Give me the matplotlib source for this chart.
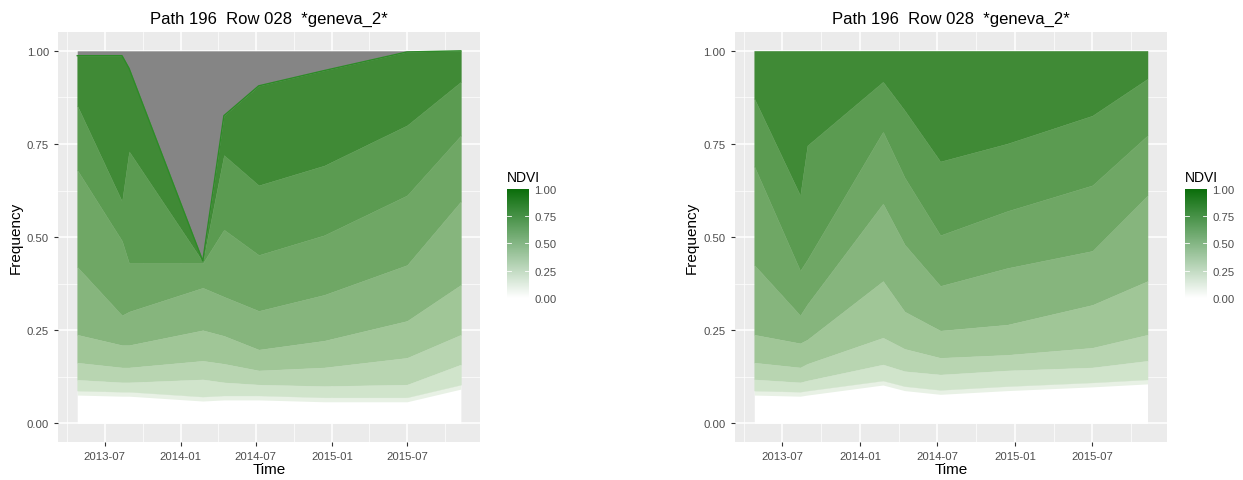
import numpy as np
import pandas as pd
import matplotlib
matplotlib.use("Agg")
import matplotlib.pyplot as plt
import matplotlib.dates as mdates
from matplotlib.colors import LinearSegmentedColormap

plt.rcParams['font.family'] = ['Liberation Sans', 'DejaVu Sans']

# acquisition dates
dates = pd.to_datetime(['2013-04-26', '2013-08-12', '2013-08-29', '2014-02-23',
                        '2014-04-15', '2014-07-08', '2014-12-13', '2015-07-01',
                        '2015-11-08'])

# left panel: upper edge of valid data (grey above = no data), then the
# cumulative frequency boundaries from high NDVI down to low NDVI
left_top = [0.987, 0.987, 0.953, 0.436, 0.826, 0.906, 0.947, 0.997, 1.000]
left_b1 = [0.853, 0.596, 0.730, 0.434, 0.720, 0.639, 0.692, 0.800, 0.917]
left_b2 = [0.680, 0.490, 0.430, 0.430, 0.520, 0.452, 0.505, 0.612, 0.773]
left_b3 = [0.420, 0.290, 0.300, 0.364, 0.340, 0.302, 0.345, 0.425, 0.596]
left_b4 = [0.238, 0.210, 0.210, 0.250, 0.235, 0.198, 0.222, 0.275, 0.372]
left_b5 = [0.163, 0.150, 0.150, 0.168, 0.160, 0.142, 0.150, 0.176, 0.238]
left_b6 = [0.117, 0.110, 0.110, 0.118, 0.110, 0.104, 0.100, 0.104, 0.158]
left_b7 = [0.088, 0.085, 0.085, 0.072, 0.075, 0.075, 0.070, 0.070, 0.104]

# right panel (no missing data)
right_top = [1.0, 1.0, 1.0, 1.0, 1.0, 1.0, 1.0, 1.0, 1.0]
right_b1 = [0.872, 0.612, 0.746, 0.917, 0.840, 0.703, 0.751, 0.826, 0.925]
right_b2 = [0.690, 0.410, 0.440, 0.783, 0.660, 0.505, 0.570, 0.639, 0.773]
right_b3 = [0.425, 0.290, 0.320, 0.590, 0.480, 0.369, 0.417, 0.463, 0.612]
right_b4 = [0.238, 0.215, 0.225, 0.382, 0.300, 0.249, 0.265, 0.318, 0.382]
right_b5 = [0.163, 0.150, 0.160, 0.230, 0.200, 0.176, 0.184, 0.203, 0.238]
right_b6 = [0.118, 0.110, 0.115, 0.158, 0.140, 0.131, 0.142, 0.150, 0.168]
right_b7 = [0.088, 0.085, 0.088, 0.115, 0.100, 0.090, 0.100, 0.110, 0.118]

band_colors = ['#408a36', '#5b9b51', '#6fa765', '#86b57d', '#a0c697', '#b8d5b1', '#d0e4cb']

title = 'Path 196  Row 028  *geneva_2*'
yticks = [0.0, 0.25, 0.5, 0.75, 1.0]
xticks = pd.to_datetime(['2013-07-01', '2014-01-01', '2014-07-01', '2015-01-01', '2015-07-01'])
xminor = pd.to_datetime(['2013-04-01', '2013-10-01', '2014-04-01', '2014-10-01', '2015-04-01', '2015-10-01'])


def panel(ax, top, bounds, grey):
    ax.set_facecolor('#ebebeb')
    span = dates[-1] - dates[0]
    ax.set_xlim(dates[0] - 0.05 * span, dates[-1] + 0.05 * span)
    ax.set_ylim(-0.05, 1.05)
    ax.set_yticks(yticks)
    ax.set_yticklabels(['%.2f' % v for v in yticks])
    ax.set_yticks([0.125, 0.375, 0.625, 0.875], minor=True)
    ax.set_xticks(xticks)
    ax.xaxis.set_major_formatter(mdates.DateFormatter('%Y-%m'))
    ax.set_xticks(xminor, minor=True)
    ax.grid(True, which='major', color='white', lw=1.1)
    ax.grid(True, which='minor', color='white', lw=0.5)
    ax.set_axisbelow(True)
    for s in ax.spines.values():
        s.set_visible(False)
    ax.tick_params(which='major', length=3, color='#333333', labelcolor='#4d4d4d', labelsize=8.2, width=0.8)
    ax.tick_params(which='minor', length=0)

    if grey:
        ax.fill_between(dates, top, 1.0, color='#858585', lw=0)
    edges = [top] + bounds
    ax.fill_between(dates, 0, bounds[-1], color='white', lw=0)
    # faint fringe under the lowest band
    ax.fill_between(dates, np.array(bounds[-1]) - 0.012, bounds[-1], color='#e8f1e5', lw=0)
    for i in range(len(bounds)):
        ax.fill_between(dates, edges[i + 1], edges[i], color=band_colors[i], lw=0.3,
                        edgecolor=band_colors[i])
    if grey:
        ax.plot(dates, top, color='#2e8a28', lw=1.0)
    ax.set_title(title, fontsize=12, color='black', pad=7)
    ax.set_xlabel('Time', fontsize=11, labelpad=1)
    ax.set_ylabel('Frequency', fontsize=11, labelpad=3)


fig = plt.figure(figsize=(12.43, 4.81), dpi=100)
ax1 = fig.add_axes([0.0467, 0.079, 0.3395, 0.852])
ax2 = fig.add_axes([0.591, 0.079, 0.348, 0.852])

panel(ax1, left_top, [left_b1, left_b2, left_b3, left_b4, left_b5, left_b6, left_b7], True)
panel(ax2, right_top, [right_b1, right_b2, right_b3, right_b4, right_b5, right_b6, right_b7], False)

# colour bar legends
cmap = LinearSegmentedColormap.from_list('ndvi', ['white', '#0b6e0b'])
grad = np.linspace(0, 1, 200).reshape(-1, 1)
for x0 in [507, 1185]:
    cax = fig.add_axes([x0 / 1243, 1 - 302 / 481, 22 / 1243, 112 / 481])
    cax.imshow(grad, aspect='auto', cmap=cmap, origin='lower', extent=[0, 1, 0, 1])
    cax.set_xticks([])
    cax.yaxis.tick_right()
    cax.set_yticks(yticks)
    cax.set_yticklabels(['%.2f' % v for v in yticks])
    cax.tick_params(length=0, labelsize=8.2, labelcolor='#4d4d4d', pad=4)
    for s in cax.spines.values():
        s.set_visible(False)
    for v in yticks[1:-1]:
        cax.plot([0, 0.2], [v, v], color='white', lw=0.6)
        cax.plot([0.8, 1], [v, v], color='white', lw=0.6)
    cax.set_xlim(0, 1)
    cax.set_ylim(-0.03, 1.0)
    fig.text(x0 / 1243, 1 - 178 / 481, 'NDVI', fontsize=10, va='center', ha='left')

fig.savefig('out.png', dpi=100)
